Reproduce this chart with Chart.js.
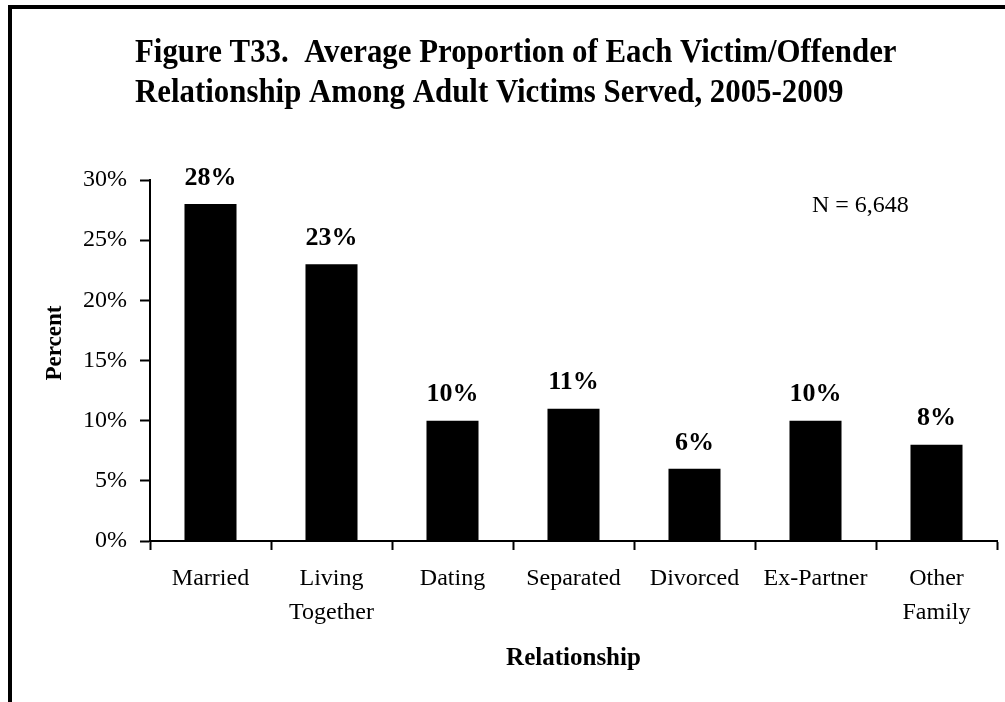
<!DOCTYPE html>
<html>
<head>
<meta charset="utf-8">
<script src="https://cdn.jsdelivr.net/npm/chart.js@4.4.0/dist/chart.umd.min.js"></script>
<style>
  body { margin: 0; background: #fff; }
  #wrap { width: 1005px; height: 702px; position: relative; }
</style>
</head>
<body>
<div id="wrap"><canvas id="barChart" width="1005" height="702"></canvas></div>
<script>
// data
var categories = ["Married", ["Living", "Together"], "Dating", "Separated", "Divorced", "Ex-Partner", ["Other", "Family"]]
var percents = [28, 23, 10, 11, 6, 10, 8]
var yTicks = [0, 5, 10, 15, 20, 25, 30]

var titleLines = ["Figure T33.  Average Proportion of Each Victim/Offender",
                  "Relationship Among Adult Victims Served, 2005-2009"]
var noteText = "N = 6,648"
var serif = "'Liberation Serif', 'Times New Roman', serif"

// frame, title, axis titles, value labels
var extras = {
    id: 'extras',
    afterDraw: function(chart){
        var ctx = chart.ctx
        var area = chart.chartArea
        ctx.save()
        // outer frame (only left + top show in the figure)
        ctx.strokeStyle = '#000'
        ctx.lineWidth = 4
        ctx.beginPath()
        ctx.moveTo(10, 710)
        ctx.lineTo(10, 7)
        ctx.lineTo(1010, 7)
        ctx.stroke()

        ctx.fillStyle = '#000'
        // title, slightly condensed like the original
        ctx.font = 'bold 33px ' + serif
        ctx.textAlign = 'left'
        ctx.textBaseline = 'alphabetic'
        ctx.save()
        ctx.translate(135, 0)
        ctx.scale(0.935, 1)
        ctx.fillText(titleLines[0], 0, 62)
        ctx.fillText(titleLines[1], 0, 102)
        ctx.restore()

        ctx.textAlign = 'center'
        ctx.font = 'bold 25px ' + serif
        ctx.fillText("Relationship", (area.left + area.right) / 2, 665)
        ctx.textBaseline = 'middle'
        ctx.save()
        ctx.font = 'bold 23px ' + serif
        ctx.translate(55, 343)
        ctx.rotate(-Math.PI / 2)
        ctx.fillText("Percent", 0, 0)
        ctx.restore()

        ctx.font = '24px ' + serif
        ctx.textAlign = 'left'
        ctx.textBaseline = 'alphabetic'
        ctx.fillText(noteText, 812, 212)

        // value labels over bars
        ctx.textAlign = 'center'
        ctx.textBaseline = 'middle'
        ctx.font = 'bold 26px ' + serif
        var meta = chart.getDatasetMeta(0)
        meta.data.forEach(function(bar, i){
            ctx.fillText(percents[i] + '%', bar.x, bar.y - 26)
        })
        ctx.restore()
    }
}

var ctx = document.getElementById("barChart").getContext('2d')
var barChart = new Chart(ctx, {
    type: 'bar',
    data: {
        labels: categories,
        datasets: [
            {
                label: "Percent",
                data: percents,
                backgroundColor: '#000',
                borderWidth: 0,
                categoryPercentage: 1,
                barPercentage: 0.43
            }
        ]
    },
    options: {
        responsive: false,
        animation: false,
        events: [],
        layout: { padding: { top: 180, left: 10, right: 8, bottom: 0 } },
        plugins: {
            legend: { display: false },
            tooltip: { enabled: false }
        },
        scales: {
            x: {
                afterFit: function(s){ s.height = 161 },
                grid: {
                    offset: true,
                    drawOnChartArea: false,
                    drawTicks: true,
                    tickLength: 9,
                    tickColor: '#000',
                    tickWidth: 2
                },
                border: { color: '#000', width: 2 },
                ticks: {
                    color: '#000',
                    padding: 12,
                    maxRotation: 0,
                    autoSkip: false,
                    font: { family: serif, size: 24, lineHeight: 1.42 }
                }
            },
            y: {
                min: 0,
                max: 30,
                afterFit: function(s){ s.width = 140 },
                afterBuildTicks: function(s){ s.ticks = yTicks.map(function(v){ return { value: v } }) },
                grid: {
                    drawOnChartArea: false,
                    tickLength: 10,
                    tickColor: '#000',
                    tickWidth: 2
                },
                border: { color: '#000', width: 2 },
                ticks: {
                    color: '#000',
                    padding: 13,
                    font: { family: serif, size: 24 },
                    callback: function(v){ return v + '%' }
                }
            }
        }
    },
    plugins: [extras]
})
</script>
</body>
</html>
